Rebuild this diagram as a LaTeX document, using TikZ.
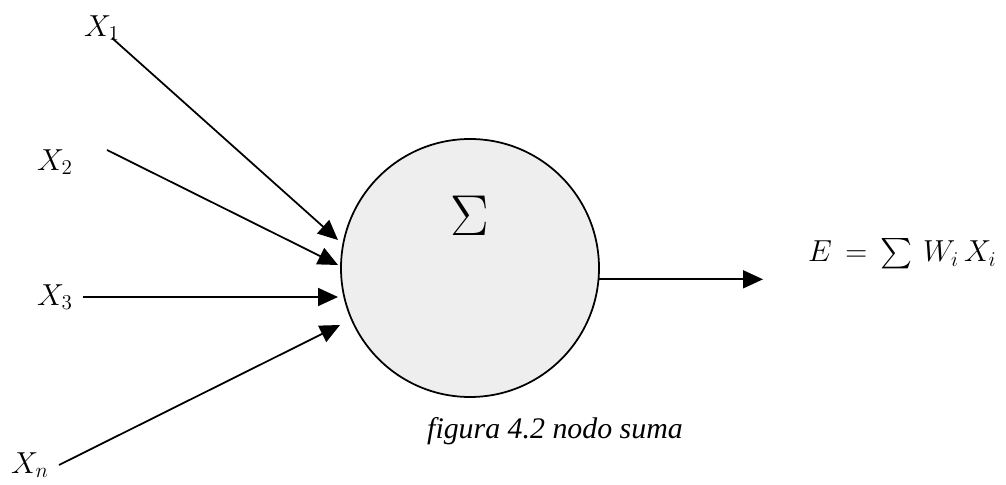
\documentclass[tikz,border=0pt]{standalone}
\usepackage{fontspec}
\setmainfont{Liberation Serif}
\usepackage{amsmath}
\usetikzlibrary{arrows.meta,positioning,calc}

\begin{document}
\begin{tikzpicture}[font=\fontsize{17}{20}\selectfont,
  inp/.style={line width=1pt,-{Triangle[length=0.4cm,width=0.36cm]}},
  nodo/.style={circle,draw,line width=1pt,fill=gray!13,minimum size=5.16cm,inner sep=0pt}]
\useasboundingbox (0,0) rectangle (20.12,9.70);
% summing node
\node[nodo] (sum) at (9.40,4.34) {};
\node (sig) at (9.40,5.38) {\scalebox{1.9}{$\Sigma$}};
% inputs
\node (x1) at (2.04,9.14) {$X_1$};
\node (x2) at (1.10,6.46) {$X_2$};
\node (x3) at (1.10,3.76) {$X_3$};
\node (xn) at (0.60,0.40) {$X_n$};
\foreach \i/\sx/\sy/\tx/\ty in {1/2.24/8.94/6.76/4.90, 2/2.14/6.70/6.76/4.40,
  3/1.66/3.76/6.76/3.76, 4/1.18/0.40/6.80/3.20}{
  \coordinate (s\i) at (\sx,\sy);
  \coordinate (t\i) at (\tx,\ty);
  \draw[inp] (s\i) -- (t\i);
}
% output
\coordinate (out) at (15.26,4.10);
\draw[inp] (sum.-5) -- (sum.-5 -| out);
\node[anchor=east,inner sep=0pt] (eq) at (19.94,4.62) {$E \,=\, \sum\, W_i\, X_i$};
\node[font=\fontsize{17}{20}\selectfont\itshape] (cap) at (11.10,1.08) {figura 4.2 nodo suma};
\end{tikzpicture}
\end{document}
